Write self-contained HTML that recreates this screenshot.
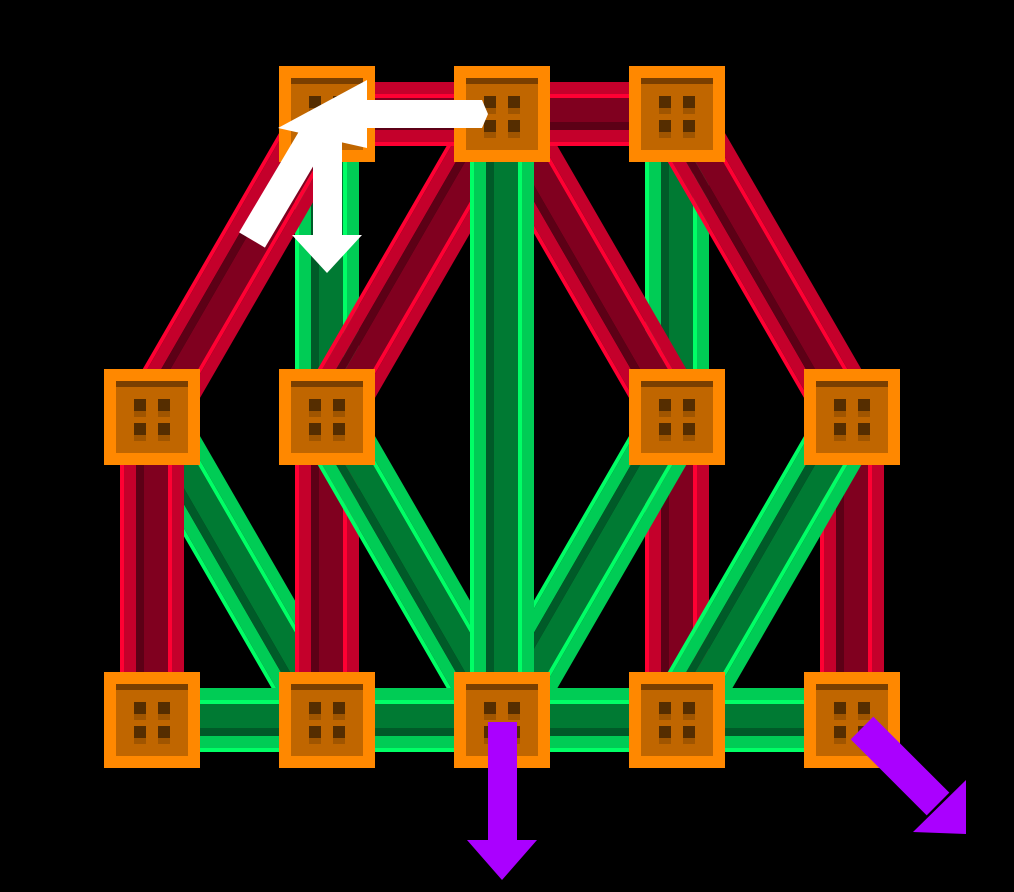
<!DOCTYPE html>
<html><head><meta charset="utf-8"><style>
html,body{margin:0;padding:0;background:#000;}
svg{display:block;}
</style></head><body>
<svg id="c" width="1014" height="892" viewBox="0 0 1014 892" xmlns="http://www.w3.org/2000/svg">
<rect width="1014" height="892" fill="#000"/>
<g id="members"></g>
<g id="nodes"></g>
<g id="arrows">
  <g fill="#ffffff">
    <line x1="252" y1="240" x2="322" y2="122" stroke="#ffffff" stroke-width="30"/>
  </g>
  <g fill="#ffffff">
    <rect x="358" y="100" width="124" height="28"/>
    <polygon points="482,100 488,114 482,128"/>
    <polygon points="367,80 367,148 278,128"/>
  </g>
  <g fill="#ffffff">
    <rect x="313" y="125" width="29" height="112"/>
    <polygon points="292,235 362,235 327,273"/>
  </g>
  <g fill="#aa00ff">
    <rect x="488" y="722" width="29" height="120"/>
    <polygon points="467,840 537,840 502,880"/>
  </g>
  <g fill="#aa00ff">
    <line x1="862" y1="728" x2="938" y2="804" stroke="#aa00ff" stroke-width="32"/>
    <polygon points="913,832 966,780 966,834"/>
  </g>
</g>
</svg>
<script>
const nodeX = [152, 327, 502, 677, 852, 152, 327, 677, 852, 327, 502, 677];
const nodeY = [720, 720, 720, 720, 720, 417, 417, 417, 417, 114, 114, 114];
// drawing order matters for overlaps
const memberStart = [9,11, 9,10,10,11, 5, 5,8, 6,7,  6,8,7, 10, 0,1,2,3, 9,10];
const memberEnd   = [6,7,  5,6, 7, 8,  1, 0,4, 1,3,  2,3,2, 2,  1,2,3,4, 10,11];
const memberType  = ['t','t','c','c','c','c','t','c','c','c','c','t','t','t','t','t','t','t','t','c','c'];
const NS='http://www.w3.org/2000/svg';
const pal={c:['#ff0033','#c4002b','#5c0016','#80001f','#ff0033','#c4002b'],
           t:['#00ff66','#00cc55','#005a28','#007a33','#00ff66','#00cc55']};
const mg=document.getElementById('members');
for(let i=0;i<memberStart.length;i++){
  const a=memberStart[i],b=memberEnd[i];
  const x1=nodeX[a],y1=nodeY[a],x2=nodeX[b],y2=nodeY[b];
  const L=Math.hypot(x2-x1,y2-y1),ang=Math.atan2(y2-y1,x2-x1)*180/Math.PI;
  const g=document.createElementNS(NS,'g');
  
  
  g.setAttribute('transform','translate('+x1+','+y1+') rotate('+ang+')');
  const p=pal[memberType[i]];
  const bands=[[28,4,p[0]],[16,12,p[1]],[8,8,p[2]],[-16,24,p[3]],[-20,4,p[4]],[-32,12,p[5]]];
  for(const [y,h,col] of bands){
    const r=document.createElementNS(NS,'rect');
    r.setAttribute('x',0);r.setAttribute('y',y);r.setAttribute('width',L);r.setAttribute('height',h);r.setAttribute('fill',col);
    g.appendChild(r);
  }
  mg.appendChild(g);
}
const ng=document.getElementById('nodes');
for(let i=0;i<nodeX.length;i++){
  const x=nodeX[i]-48,y=nodeY[i]-48;
  const g=document.createElementNS(NS,'g');
  
  
  let s='<rect x="'+x+'" y="'+y+'" width="96" height="96" fill="#ff8800"/>'+
        '<rect x="'+(x+12)+'" y="'+(y+12)+'" width="72" height="72" fill="#c06600"/>'+
        '<rect x="'+(x+12)+'" y="'+(y+12)+'" width="72" height="6" fill="#7a3f00"/>';
  for(const bx of [30,54]) for(const by of [30,54]){
    s+='<rect x="'+(x+bx)+'" y="'+(y+by+12)+'" width="12" height="6" fill="#a05500"/>';
    s+='<rect x="'+(x+bx)+'" y="'+(y+by)+'" width="12" height="12" fill="#552d00"/>';
  }
  g.innerHTML=s;
  ng.appendChild(g);
}
</script>
</body></html>
